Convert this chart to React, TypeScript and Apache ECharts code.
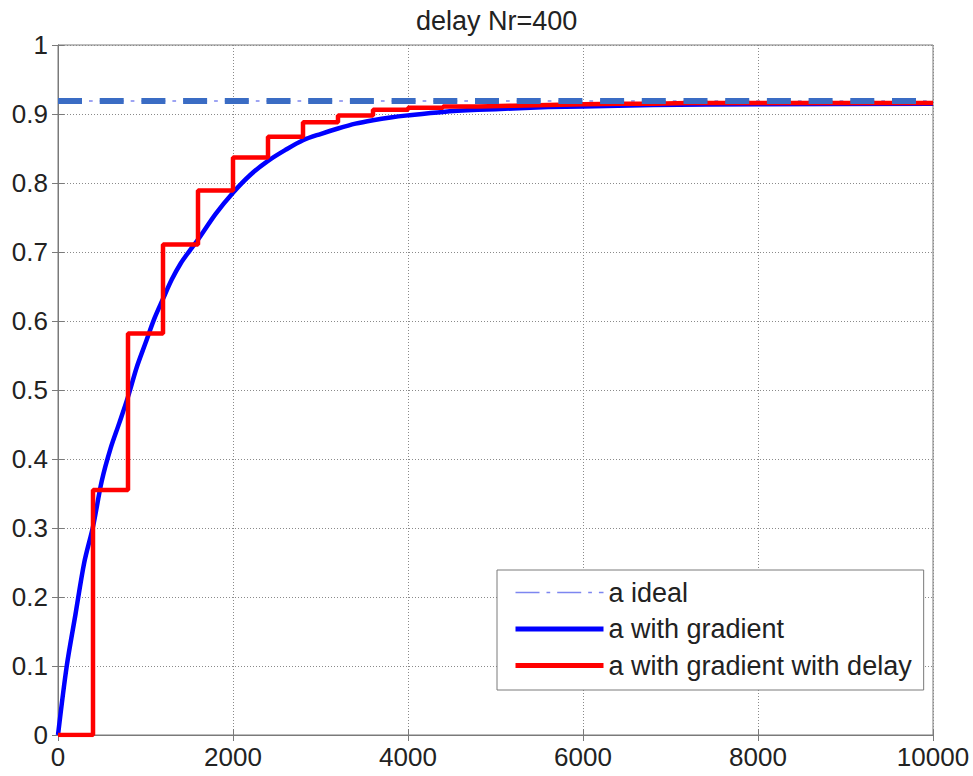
import React, { useEffect, useRef } from "react";
import * as echarts from "echarts";

const titleText = "delay Nr=400";
const xTicks = [0, 2000, 4000, 6000, 8000, 10000];
const yTicks = [0, 0.1, 0.2, 0.3, 0.4, 0.5, 0.6, 0.7, 0.8, 0.9, 1];

const idealX = [0, 10000];
const idealY = [0.919, 0.919];

const blueX = [0, 100, 200, 300, 400, 500, 600, 700, 800, 900, 1000, 1100, 1200, 1300, 1400, 1500, 1600, 1800, 2000, 2200, 2400, 2600, 2800, 3000, 3200, 3400, 3600, 3800, 4000, 4400, 4800, 5200, 5600, 6000, 6800, 8000, 10000];
const blueY = [0, 0.1, 0.175, 0.25, 0.302, 0.368, 0.415, 0.452, 0.49, 0.533, 0.568, 0.603, 0.632, 0.66, 0.683, 0.701, 0.718, 0.755, 0.786, 0.812, 0.832, 0.848, 0.862, 0.871, 0.879, 0.886, 0.891, 0.895, 0.898, 0.903, 0.906, 0.908, 0.91, 0.911, 0.913, 0.914, 0.915];

const redX = [0, 400, 800, 1200, 1600, 2000, 2400, 2800, 3200, 3600, 4000, 4400, 4800, 5200, 5600, 6000, 6400, 6800, 7200, 7600, 8000, 8400, 8800, 9200, 9600, 10000];
const redY = [0, 0.355, 0.582, 0.711, 0.789, 0.837, 0.867, 0.888, 0.898, 0.906, 0.909, 0.911, 0.912, 0.913, 0.914, 0.915, 0.915, 0.916, 0.916, 0.916, 0.916, 0.916, 0.916, 0.916, 0.916, 0.916];

const names = ["a ideal", "a with gradient", "a with gradient with delay"];

const zip = (xs: number[], ys: number[]) => xs.map((x, i) => [x, ys[i]]);

export default function App() {
  const ref = useRef<HTMLDivElement>(null);
  useEffect(() => {
    if (!ref.current) return;
    const chart = echarts.init(ref.current, null, { renderer: "svg" });
    const font = "'Liberation Sans', Arial, sans-serif";
    const xMin = xTicks[0];
    const xMax = xTicks[xTicks.length - 1];
    const xInt = xTicks[1] - xTicks[0];
    const yMin = yTicks[0];
    const yMax = yTicks[yTicks.length - 1];
    const yInt = 0.1;
    const axisLine = { show: true, lineStyle: { color: "#7a7a7a", width: 1 } };
    const hidden = { opacity: 0 };
    chart.setOption({
      animation: false,
      backgroundColor: "#ffffff",
      title: {
        text: titleText,
        left: 411,
        top: 2,
        textStyle: { fontFamily: font, fontSize: 27, fontWeight: "normal", color: "#222" },
      },
      grid: { left: 58, right: 40, top: 45, bottom: 41, show: true, borderColor: "#7a7a7a", borderWidth: 1 },
      legend: {
        orient: "vertical",
        left: 497,
        top: 570,
        data: [
          { name: names[0], lineStyle: { width: 1.5 }, itemStyle: hidden },
          { name: names[1], lineStyle: { width: 5 }, itemStyle: hidden },
          { name: names[2], lineStyle: { width: 5 }, itemStyle: hidden },
        ],
        itemStyle: hidden,
        itemWidth: 88,
        itemHeight: 14,
        itemGap: 9.5,
        padding: [9, 12, 11, 16],
        borderColor: "#7a7a7a",
        borderWidth: 1,
        backgroundColor: "#ffffff",
        borderRadius: 0,
        textStyle: { fontFamily: font, fontSize: 27, color: "#222", lineHeight: 26 },
      },
      xAxis: [
        {
          type: "value",
          min: xMin,
          max: xMax,
          interval: xInt,
          axisLine,
          axisTick: { show: true, inside: true, length: 6, lineStyle: { color: "#7a7a7a" } },
          axisLabel: { fontFamily: font, fontSize: 26, color: "#222", margin: 9, formatter: (v: number) => String(v) },
          splitLine: { show: true, lineStyle: { color: "#8a8a8a", type: [1, 2], width: 1 } },
        },
        {
          type: "value",
          position: "top",
          min: xMin,
          max: xMax,
          interval: xInt,
          axisLine,
          axisTick: { show: true, inside: true, length: 6, lineStyle: { color: "#7a7a7a" } },
          axisLabel: { show: false },
          splitLine: { show: false },
        },
      ],
      yAxis: [
        {
          type: "value",
          min: yMin,
          max: yMax,
          interval: yInt,
          axisLine,
          axisTick: { show: true, inside: true, length: 6, lineStyle: { color: "#7a7a7a" } },
          axisLabel: { fontFamily: font, fontSize: 26, color: "#222", margin: 10, formatter: (v: number) => String(Math.round(v * 10) / 10) },
          splitLine: { show: true, lineStyle: { color: "#8a8a8a", type: [1, 2], width: 1 } },
        },
        {
          type: "value",
          position: "right",
          min: yMin,
          max: yMax,
          interval: yInt,
          axisLine,
          axisTick: { show: true, inside: true, length: 6, lineStyle: { color: "#7a7a7a" } },
          axisLabel: { show: false },
          splitLine: { show: false },
        },
      ],
      series: [
        {
          name: "idealThick",
          type: "line",
          data: zip(idealX, idealY),
          showSymbol: false,
          symbol: "none",
          silent: true,
          z: 4,
          lineStyle: { color: "#3a6cc4", width: 6, type: [24, 17.7] },
        },
        {
          name: names[0],
          type: "line",
          data: zip(idealX, idealY),
          showSymbol: false,
          symbol: "none",
          z: 3,
          itemStyle: { color: "#7d86f0" },
          lineStyle: { color: "#7d86f0", width: 1.5, type: [24, 7, 3.7, 7] },
        },
        {
          name: names[1],
          type: "line",
          data: zip(blueX, blueY),
          showSymbol: false,
          symbol: "none",
          smooth: 0.3,
          z: 2,
          itemStyle: { color: "#0000ff" },
          lineStyle: { color: "#0000ff", width: 4.5 },
        },
        {
          name: names[2],
          type: "line",
          step: "end",
          data: zip(redX, redY),
          showSymbol: false,
          symbol: "none",
          z: 3,
          itemStyle: { color: "#ff0000" },
          lineStyle: { color: "#ff0000", width: 4.5 },
        },
      ],
    });
    return () => chart.dispose();
  }, []);
  return <div ref={ref} style={{ position: "fixed", left: 0, top: 0, width: 973, height: 776 }} />;
}
